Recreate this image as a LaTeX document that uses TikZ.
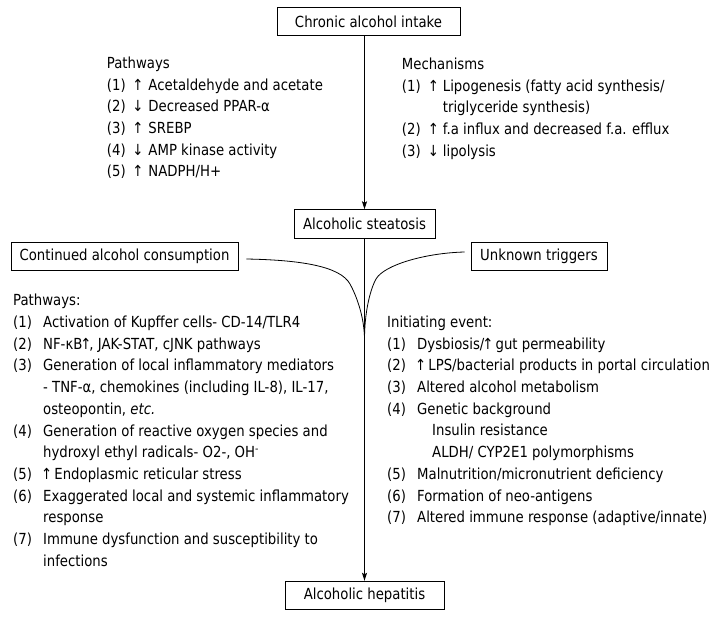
\documentclass[tikz,border=0pt]{standalone}
\usepackage{fontspec}
\setmainfont{DejaVu Sans}[FakeStretch=0.87]
\usetikzlibrary{arrows.meta,calc}
\newcommand\upa{\makebox[7bp][c]{↑}}
\newcommand\dna{\makebox[7bp][c]{↓}}
\begin{document}
\begin{tikzpicture}[x=1bp,y=-1bp,
  txt/.style={font=\fontsize{15.25bp}{21.7bp}\selectfont},
  box/.style={txt,draw,line width=0.9bp,inner sep=0pt,minimum height=28.5bp},
  list/.style={txt,inner sep=0pt,anchor=north west},
  conn/.style={line width=0.9bp,-{Stealth[length=8bp,width=5bp,inset=1.5bp]}},
  curv/.style={line width=0.8bp}]
\useasboundingbox (0,0) rectangle (719,617);

\node[box,minimum width=183bp] (chron) at (368.5,21.5) {Chronic alcohol intake};
\node[box,minimum width=141bp] (steat) at (364.5,224) {Alcoholic steatosis};
\node[box,minimum width=227bp] (cont) at (124.5,256.5) {Continued alcohol consumption};
\node[box,minimum width=136bp] (unk) at (539,256.5) {Unknown triggers};
\node[box,minimum width=159bp] (hep) at (364.5,595.5) {Alcoholic hepatitis};

\node[list] (pw1) at (106.7,53.1) {\begin{tabular}{@{}p{31bp}@{}p{10.6bp}@{}l@{}}
\multicolumn{3}{@{}l@{}}{Pathways}\\
(1) & \makebox[0pt]{↑} & Acetaldehyde and acetate\\
(2) & \makebox[0pt]{↓} & Decreased PPAR-α\\
(3) & \makebox[0pt]{↑} & SREBP\\
(4) & \makebox[0pt]{↓} & AMP kinase activity\\
(5) & \makebox[0pt]{↑} & NADPH/H+
\end{tabular}};

\node[list] (mech) at (401.7,54.1) {\begin{tabular}{@{}p{31.6bp}@{}p{9.4bp}@{}l@{}}
\multicolumn{3}{@{}l@{}}{Mechanisms}\\
(1) & \makebox[0pt]{↑} & Lipogenesis (fatty acid synthesis/\\
 & & triglyceride synthesis)\\
(2) & \makebox[0pt]{↑} & f.a influx and decreased f.a. efflux\\
(3) & \makebox[0pt]{↓} & lipolysis
\end{tabular}};

\node[list] (pw2) at (13,290.5) {\begin{tabular}{@{}p{30bp}@{}l@{}}
\multicolumn{2}{@{}l@{}}{Pathways:}\\
(1) & Activation of Kupffer cells- CD-14/TLR4\\
(2) & NF-κB\upa, JAK-STAT, cJNK pathways\\
(3) & Generation of local inflammatory mediators\\
 & - TNF-α, chemokines (including IL-8), IL-17,\\
 & osteopontin, \textit{etc.}\\
(4) & Generation of reactive oxygen species and\\
 & hydroxyl ethyl radicals- O2-, OH\textsuperscript{-}\\
(5) & \upa\ Endoplasmic reticular stress\\
(6) & Exaggerated local and systemic inflammatory\\
 & response\\
(7) & Immune dysfunction and susceptibility to\\
 & infections
\end{tabular}};

\node[list] (ie) at (387,312.1) {\begin{tabular}{@{}p{30bp}@{}l@{}}
\multicolumn{2}{@{}l@{}}{Initiating event:}\\
(1) & Dysbiosis/\upa\ gut permeability\\
(2) & \upa\ LPS/bacterial products in portal circulation\\
(3) & Altered alcohol metabolism\\
(4) & Genetic background\\
 & \hspace{15bp}Insulin resistance\\
 & \hspace{15bp}ALDH/ CYP2E1 polymorphisms\\
(5) & Malnutrition/micronutrient deficiency\\
(6) & Formation of neo-antigens\\
(7) & Altered immune response (adaptive/innate)
\end{tabular}};

\coordinate (m) at (steat.south |- 0,340);
\draw[conn] (chron.south -| steat.north) -- (steat.north);
\draw[conn] (steat.south) -- (hep.north);
\draw[curv] ($(cont.east)+(8,2.5)$) .. controls (300,260) and (340,266) .. (350,284)
  .. controls (355,293) and (364.5,315) .. (m);
\draw[curv] ($(unk.west)+(-6,-4.5)$) .. controls (425,253) and (384,265) .. (376,279)
  .. controls (373,284) and (364.5,305) .. (m);
\end{tikzpicture}
\end{document}
